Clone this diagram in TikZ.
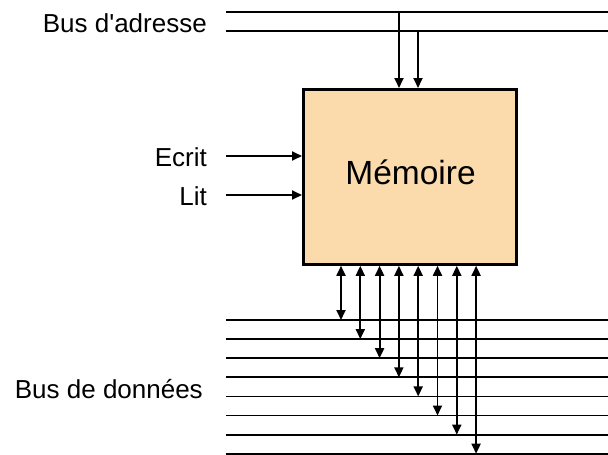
\documentclass[tikz,border=0pt]{standalone}
\usepackage{fontspec}
\setmainfont{Liberation Sans}
\usetikzlibrary{arrows.meta, positioning}
\definecolor{memfill}{HTML}{FBDBAC}

\begin{document}
\begin{tikzpicture}[
  x=1pt, y=-1pt,
  bus/.style={line width=1.8pt},
  arr/.style={-{Triangle[length=10pt, width=9pt]}, line width=1.8pt},
  darr/.style={{Triangle[length=10pt, width=9pt]}-{Triangle[length=10pt, width=9pt]},
               line width=1.8pt},
  lbl/.style={font=\fontsize{26}{30}\selectfont, anchor=base east, inner sep=0pt}
]
  \useasboundingbox (0,0) rectangle (608,455);

  % memory block
  \node[draw, line width=2.8pt, fill=memfill, minimum width=213pt,
        minimum height=175pt, anchor=north west] (mem) at (302,88) {};
  \node[font=\fontsize{33.5}{40}\selectfont, anchor=base, inner sep=0pt]
    (memtxt) at (410.5,184) {Mémoire};

  % address bus
  \coordinate (al1) at (226,12);  \coordinate (ar1) at (608,12);
  \coordinate (al2) at (226,31);  \coordinate (ar2) at (608,31);
  \draw[bus] (al1) -- (ar1);
  \draw[bus] (al2) -- (ar2);
  \coordinate (a1) at (399,12);
  \coordinate (a2) at (418,31);
  \draw[arr] (a1) -- (a1 |- mem.north);
  \draw[arr] (a2) -- (a2 |- mem.north);
  \node[lbl] (adrlbl) at (207,32.5) {Bus d\textquotesingle adresse};

  % control signals
  \coordinate (ecr) at (226,156);
  \coordinate (lit) at (226,195);
  \draw[arr] (ecr) -- (ecr -| mem.west);
  \draw[arr] (lit) -- (lit -| mem.west);
  \node[lbl] (ecrlbl) at (207,166) {Ecrit};
  \node[lbl] (litlbl) at (207,205) {Lit};

  % data bus
  \foreach \i in {0,...,7} {
    \coordinate (dl\i) at (226,{320+19.1*\i});
    \coordinate (dr\i) at (608,{320+19.1*\i});
    \coordinate (d\i) at ({341+19.3*\i},{320+19.1*\i});
    \draw[bus] (dl\i) -- (dr\i);
    \draw[darr] (d\i |- mem.south) -- (d\i);
  }
  \node[lbl] (donlbl) at (203,398) {Bus de données};
\end{tikzpicture}
\end{document}
